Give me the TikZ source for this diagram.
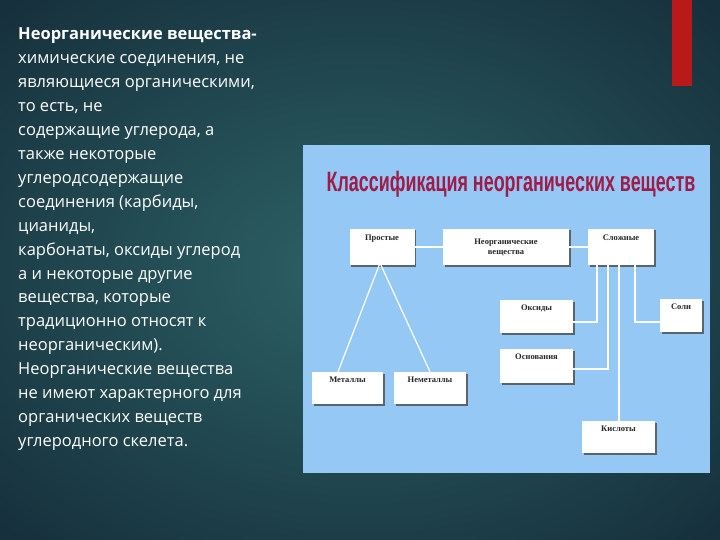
\documentclass[tikz,border=0pt]{standalone}
\usepackage{fontspec}
\setmainfont{Liberation Serif}
\newfontfamily\leftfont{Open Sans}
\newfontfamily\titlefont{Liberation Sans}
\usetikzlibrary{shadows}
\definecolor{bgA}{RGB}{45,98,102}
\definecolor{bgB}{RGB}{22,48,60}
\definecolor{panel}{RGB}{150,200,245}
\definecolor{ttl}{RGB}{160,28,72}
\definecolor{redbar}{RGB}{185,25,25}
\tikzset{
 box/.style={draw=none,fill=white,inner sep=1pt,align=center,font=\bfseries\fontsize{8.5}{10}\selectfont,text=black!85,
   drop shadow={shadow xshift=1.5pt,shadow yshift=-1.5pt,fill=black!70,opacity=0.8}},
 wl/.style={draw=white,line width=1.2pt},
 lt/.style={anchor=base west,text=white,font=\leftfont\fontsize{16.5}{18}\selectfont,inner sep=0pt}
}
\begin{document}
\begin{tikzpicture}[x=1pt,y=-1pt]
\useasboundingbox (0,0) rectangle (720,540);
\shade[inner color=bgA,outer color=bgB] (-150,-100) rectangle (870,640);
\fill[redbar] (672,0) rectangle (692,86);
% left text
\node[lt,font=\leftfont\bfseries\fontsize{16.5}{18}\selectfont] (t1) at (18,40) {Неорганические вещества-};
\foreach \i/\s in {1/{химические соединения, не},2/{являющиеся органическими,},3/{то есть, не},4/{содержащие углерода, а},5/{также некоторые},6/{углеродсодержащие},7/{соединения (карбиды,},8/{цианиды,},9/{карбонаты, оксиды углерод},10/{а и некоторые другие},11/{вещества, которые},12/{традиционно относят к},13/{неорганическим).},14/{Неорганические вещества},15/{не имеют характерного для},16/{органических веществ},17/{углеродного скелета.}}
  \node[lt] (l\i) at (18,40+23.9*\i) {\s};
% panel
\fill[panel] (303,145) rectangle (710,473);
\node[font=\titlefont\bfseries\fontsize{28}{30}\selectfont,text=ttl,xscale=0.64] (title) at (511,184) {Классификация неорганических веществ};
% boxes
\node[box,minimum width=65,minimum height=36] (pr) at (382,247) {Простые\\[8pt]};
\node[box,minimum width=126,minimum height=36] (ne) at (506,247) {Неорганические\\вещества};
\node[box,minimum width=66,minimum height=36] (sl) at (621,247) {Сложные\\[8pt]};
\node[box,minimum width=73,minimum height=33] (ok) at (536.5,316.5) {Оксиды\\[8pt]};
\node[box,minimum width=42,minimum height=33] (so) at (681,315.5) {Соли\\[8pt]};
\node[box,minimum width=73,minimum height=34] (os) at (536.5,366) {Основания\\[8pt]};
\node[box,minimum width=71,minimum height=32] (me) at (347.5,388) {Металлы\\[6pt]};
\node[box,minimum width=72,minimum height=32] (nm) at (430,388) {Неметаллы\\[6pt]};
\node[box,minimum width=73,minimum height=32] (ki) at (618.5,437) {Кислоты\\[6pt]};
% connectors
\draw[wl] (pr.east) -- (ne.west);
\draw[wl] (ne.east) -- (sl.west);
\coordinate (apex) at (380,263);
\draw[wl] (apex) -- (me.north -| 338,0);
\draw[wl] (apex) -- (nm.north);
\draw[wl] (sl.south -| 597,0) |- (ok.east |- 0,322);
\draw[wl] (sl.south -| 608,0) |- (os.east |- 0,369);
\draw[wl] (sl.south -| 619,0) -- (ki.north -| 619,0);
\draw[wl] (sl.south -| 635,0) |- (so.west |- 0,322);
\end{tikzpicture}
\end{document}
